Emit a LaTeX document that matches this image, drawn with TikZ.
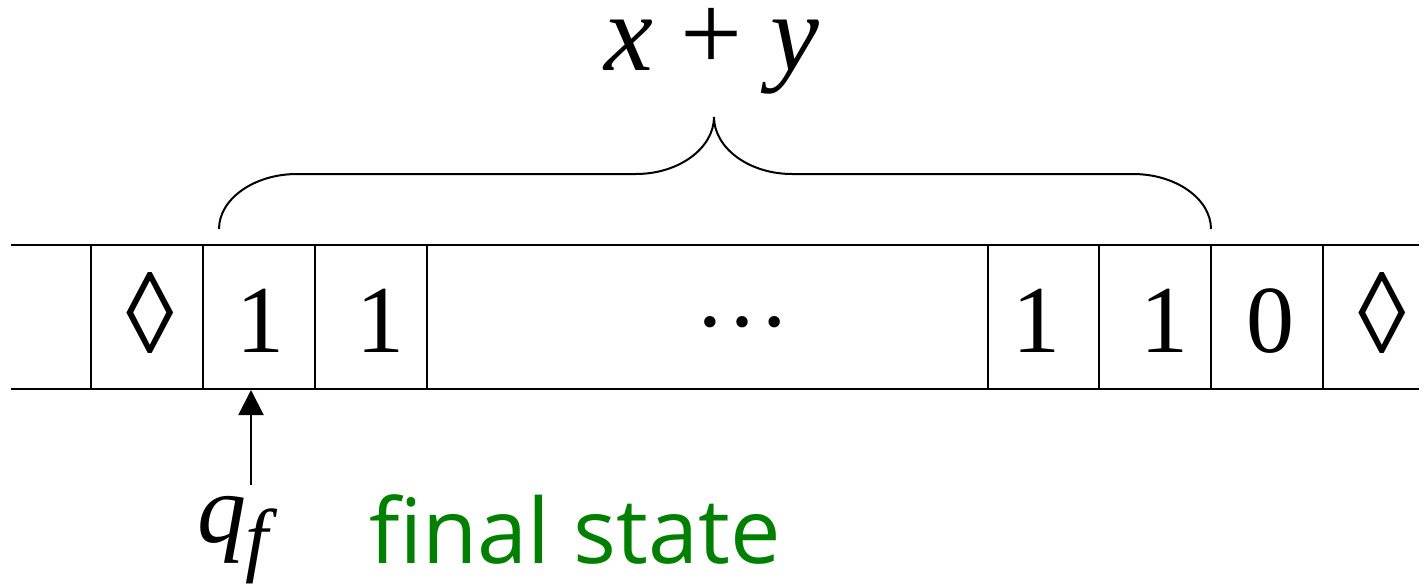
\documentclass[tikz,border=0pt]{standalone}
\usepackage{fontspec}
\setmainfont{Liberation Serif}[ItalicFont={Liberation Serif Italic}]
\newfontfamily\serifit{Liberation Serif Italic}
\newfontfamily\handfont{Open Sans}
\usetikzlibrary{arrows.meta}
\definecolor{fsgreen}{RGB}{0,128,0}
\begin{document}
\begin{tikzpicture}[x=0.5pt,y=-0.5pt,line width=1pt,
  sym/.style={font=\fontsize{48}{48}\selectfont,inner sep=0pt},
  big/.style={font=\fontsize{55}{55}\selectfont,inner sep=0pt},
  tapeline/.style={line width=1.1pt},
  headarrow/.style={line width=1pt,-{Triangle[width=12.5pt,length=12.5pt]}}]
\useasboundingbox (0,0) rectangle (1426,584);
\fill[white] (0,0) rectangle (1426,584);
% tape
\draw[tapeline] (11,245) -- (1419,245);
\draw[tapeline] (11,389) -- (1419,389);
\foreach \xx in {91,203,315,427,988,1099,1211,1323}
  \draw[tapeline] (\xx,245) -- (\xx,389);
% symbols
\node[sym] (d1) at (150,313) {\scalebox{1}[1.2]{◊}};
\node[sym,anchor=base] (c2) at (260,352) {1};
\node[sym,anchor=base] (c3) at (380,352) {1};
\node[sym,anchor=base] (dots) at (742,326) {…};
\node[sym,anchor=base] (c5) at (1036,352) {1};
\node[sym,anchor=base] (c6) at (1164,352) {1};
\node[sym,anchor=base] (c7) at (1270,352) {0};
\node[sym] (d2) at (1382,313) {\scalebox{1}[1.2]{◊}};
% brace
\draw (219,229) .. controls (219,199) and (254,174) .. (297,174)
  -- (636,174) .. controls (679,174) and (714,148) .. (714,117)
  .. controls (714,148) and (749,174) .. (792,174)
  -- (1133,174) .. controls (1176,174) and (1211,199) .. (1211,229);
\node[big,anchor=base] (sum) at (712,70) {{\serifit x} + {\serifit y}};
% head
\node[anchor=base west,inner sep=0pt,font=\fontsize{49}{49}\selectfont] (qf) at (196,542)
  {{\serifit q}\raisebox{-12pt}{\fontsize{41}{41}\selectfont\serifit f}};
\node[anchor=base west,inner sep=0pt,text=fsgreen,font=\handfont\fontsize{45}{45}\selectfont] (fs) at (368,563) {final state};
\coordinate (atail) at (251,485);
\coordinate (ahead) at (251,390);
\draw[headarrow] (atail) -- (ahead);
\end{tikzpicture}
\end{document}
